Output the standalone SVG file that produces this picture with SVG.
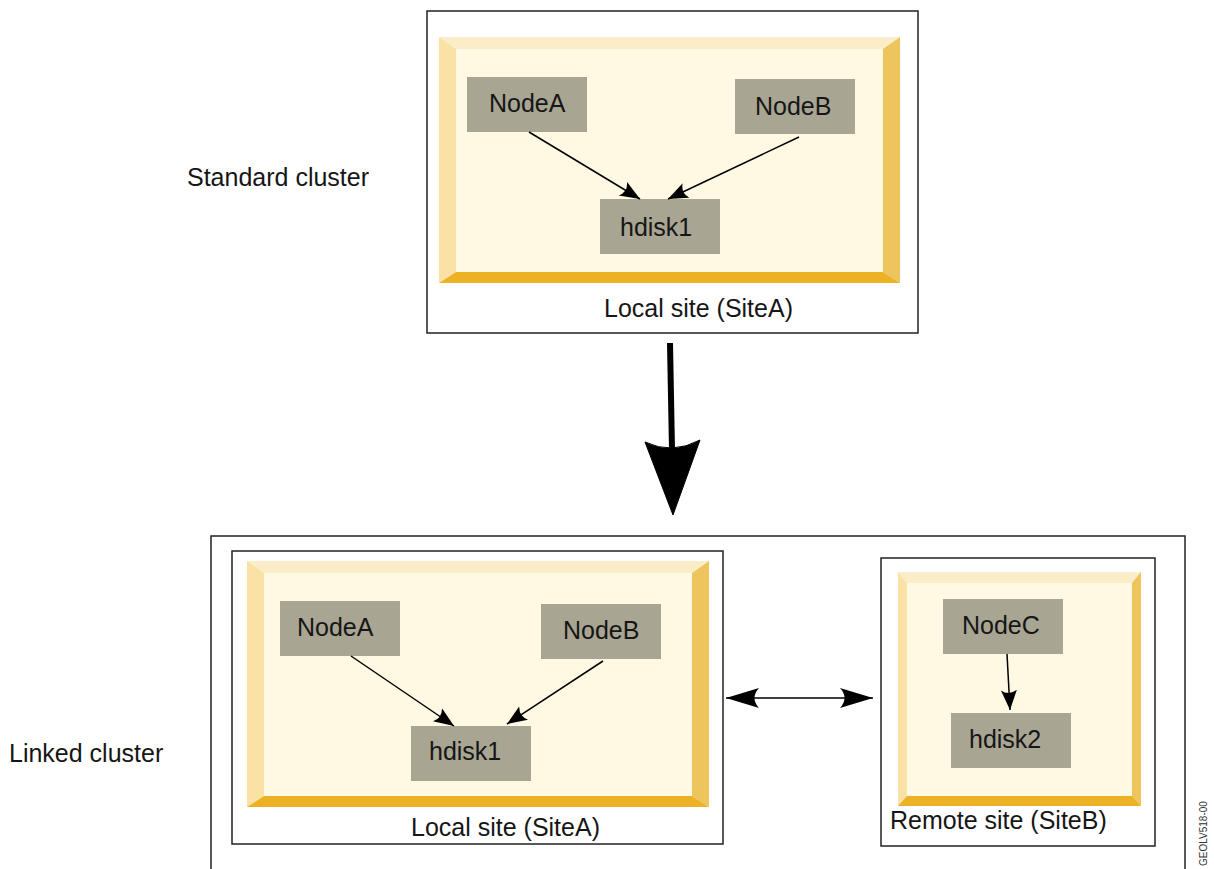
<svg xmlns="http://www.w3.org/2000/svg" width="1214" height="869" viewBox="0 0 1214 869">
<defs>
<style>
text{font-family:"Liberation Sans",Arial,sans-serif;font-size:25px;fill:#161616}
.box{fill:#fff;stroke:#222;stroke-width:1.5}
.bt{fill:#FCEDC9}
.bl{fill:#FAE1A6}
.br{fill:#EEC45D}
.bb{fill:#ECB124}
.face{fill:#FFF8E3}
.node{fill:#A8A593}
.ln{stroke:#000;stroke-width:1.5;fill:none}
.side{font-size:10px;fill:#333}
</style>
<marker id="ah" markerUnits="userSpaceOnUse" markerWidth="24" markerHeight="20" refX="20" refY="8" orient="auto" viewBox="0 0 24 20">
<path d="M0,0 L20,8 L0,16 Q6,8 0,0 Z" fill="#000"/>
</marker>
<marker id="ah2" markerUnits="userSpaceOnUse" markerWidth="36" markerHeight="22" refX="33" refY="10" orient="auto-start-reverse" viewBox="0 0 36 22">
<path d="M0,0 L33,10 L0,20 Q9,10 0,0 Z" fill="#000"/>
</marker>
</defs>
<rect width="1214" height="869" fill="#fff"/>

<text x="187" y="186">Standard cluster</text>
<text x="9" y="762">Linked cluster</text>

<g id="standard-cluster">
<rect class="box" x="427" y="11" width="491" height="322"/>
<polygon class="bt" points="439,37 900,37 883,49 456,49"/>
<polygon class="bl" points="439,37 456,49 456,272 439,283"/>
<polygon class="br" points="900,37 900,283 883,272 883,49"/>
<polygon class="bb" points="439,283 456,272 883,272 900,283"/>
<rect class="face" x="456" y="49" width="427" height="223"/>
<text x="604" y="317">Local site (SiteA)</text>
</g>
<g id="top-nodeA"><rect class="node" x="467" y="77" width="120" height="55"/><text x="489" y="112">NodeA</text></g>
<g id="top-nodeB"><rect class="node" x="735" y="79" width="120" height="55"/><text x="755" y="115">NodeB</text></g>
<g id="top-hdisk1"><rect class="node" x="600" y="199" width="120" height="55"/><text x="620" y="236">hdisk1</text></g>

<g id="linked-cluster">
<rect class="box" x="211" y="536" width="974" height="360"/>
</g>
<g id="local-site">
<rect class="box" x="232" y="551" width="491" height="293"/>
<polygon class="bt" points="247,561 709,561 692,573 264,573"/>
<polygon class="bl" points="247,561 264,573 264,796 247,807"/>
<polygon class="br" points="709,561 709,807 692,796 692,573"/>
<polygon class="bb" points="247,807 264,796 692,796 709,807"/>
<rect class="face" x="264" y="573" width="428" height="223"/>
<text x="411" y="836">Local site (SiteA)</text>
</g>
<g id="bot-nodeA"><rect class="node" x="280" y="601" width="120" height="55"/><text x="297" y="636">NodeA</text></g>
<g id="bot-nodeB"><rect class="node" x="541" y="604" width="120" height="55"/><text x="563" y="639">NodeB</text></g>
<g id="bot-hdisk1"><rect class="node" x="411" y="726" width="120" height="55"/><text x="429" y="760">hdisk1</text></g>

<g id="remote-site">
<rect class="box" x="881" y="558" width="274" height="288"/>
<polygon class="bt" points="898,572 1141,572 1132,583 907,583"/>
<polygon class="bl" points="898,572 907,583 907,796 898,806"/>
<polygon class="br" points="1141,572 1141,806 1132,796 1132,583"/>
<polygon class="bb" points="898,806 907,796 1132,796 1141,806"/>
<rect class="face" x="907" y="583" width="225" height="213"/>
<text x="890" y="829">Remote site (SiteB)</text>
</g>
<g id="nodeC"><rect class="node" x="943" y="599" width="120" height="55"/><text x="962" y="634">NodeC</text></g>
<g id="hdisk2"><rect class="node" x="951" y="713" width="120" height="55"/><text x="969" y="748">hdisk2</text></g>

<g id="connectors">
<line class="ln" x1="529" y1="132" x2="640" y2="199" marker-end="url(#ah)"/>
<line class="ln" x1="799" y1="137" x2="668" y2="199" marker-end="url(#ah)"/>
<line class="ln" x1="351" y1="656" x2="454" y2="726" marker-end="url(#ah)"/>
<line class="ln" x1="603" y1="661" x2="507" y2="724" marker-end="url(#ah)"/>
<line class="ln" x1="1007" y1="654" x2="1010" y2="710" marker-end="url(#ah)"/>
<line class="ln" x1="726" y1="698" x2="873" y2="698" stroke-width="2" marker-start="url(#ah2)" marker-end="url(#ah2)"/>
<line x1="670" y1="343" x2="672" y2="450" stroke="#000" stroke-width="6"/>
<path d="M645,442 Q672,455 700,440 L673,515 Z" fill="#000" stroke="#000" stroke-width="1" stroke-linejoin="round"/>
</g>

<text class="side" transform="translate(1207,866) rotate(-90)">GEOLV518-00</text>
</svg>
